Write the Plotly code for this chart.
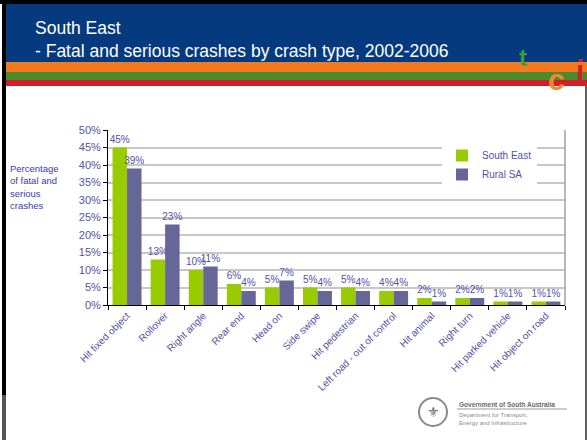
import plotly.graph_objects as go

categories = ["Hit fixed object", "Rollover", "Right angle", "Rear end", "Head on",
              "Side swipe", "Hit pedestrian", "Left road - out of control",
              "Hit animal", "Right turn", "Hit parked vehicle", "Hit object on road"]
south_east = [0.45, 0.13, 0.10, 0.06, 0.05, 0.05, 0.05, 0.04, 0.02, 0.02, 0.01, 0.01]
rural_sa = [0.39, 0.23, 0.11, 0.04, 0.07, 0.04, 0.04, 0.04, 0.01, 0.02, 0.01, 0.01]
series_names = ["South East", "Rural SA"]

W, H = 587, 440
L, R, T, B = 108, 565, 130, 305

def px(x):
    return (x - L) / (R - L)

def py(y):
    return (B - y) / (B - T)

TXT = "#5252A8"
fig = go.Figure()
for name, vals, col in [(series_names[0], south_east, "#99CC00"),
                        (series_names[1], rural_sa, "#666699")]:
    fig.add_trace(go.Bar(
        x=categories, y=vals, name=name, marker=dict(color=col, line=dict(width=0)),
        text=[f"{round(v*100)}%" for v in vals], textposition="outside",
        textfont=dict(color=TXT, size=10, family="Liberation Sans, Arial"),
        cliponaxis=False, constraintext="none"))

shapes = []
def rect(x0, y0, x1, y1, color, layer="below"):
    shapes.append(dict(type="rect", xref="paper", yref="paper",
                       x0=px(x0), x1=px(x1), y0=py(y1), y1=py(y0),
                       fillcolor=color, line=dict(width=0), layer=layer))

# header
rect(5, 4, 587, 62, "#063A7E")
rect(5, 62, 587, 72, "#F47A1F")
rect(5, 72, 587, 80, "#4C8A2C")
rect(5, 80, 587, 86, "#D11F2A")
# frame
rect(0, 0, 587, 4, "#000000")
rect(2, 0, 6, 395, "#000000")
rect(2, 395, 6, 440, "#555555")
rect(585, 86, 587, 440, "#606060")
# plot right border
shapes.append(dict(type="line", xref="paper", yref="paper", x0=1, x1=1, y0=0, y1=1,
                   line=dict(color="#A0A0A0", width=1.5), layer="above"))
# government logo circle
shapes.append(dict(type="circle", xref="paper", yref="paper",
                   x0=px(419), x1=px(447), y0=py(426), y1=py(398),
                   line=dict(color="#8A8A8A", width=2), fillcolor="rgba(0,0,0,0)"))
shapes.append(dict(type="line", xref="paper", yref="paper",
                   x0=px(457), x1=px(567), y0=py(409), y1=py(409),
                   line=dict(color="#9A9A9A", width=1)))

ann = []
def text(x, y, s, size, color, xanchor="left", yanchor="middle", **kw):
    ann.append(dict(x=px(x), y=py(y), xref="paper", yref="paper", text=s, showarrow=False,
                    xanchor=xanchor, yanchor=yanchor, align="left",
                    font=dict(size=size, color=color, family="Liberation Sans, Arial"), **kw))

text(33, 28, "South East", 17.5, "#FFFFFF")
text(33, 51, "- Fatal and serious crashes by crash type, 2002-2006", 17.5, "#FFFFFF")
text(8, 161, "Percentage<br>of fatal and<br>serious<br>crashes", 9.5, "#3A3AB0", yanchor="top")
# decorative logo letters
text(523, 58, "<b>t</b>", 24, "#3E9A3A", xanchor="center")
text(556, 80, "<b>c</b>", 30, "#F08A30", xanchor="center")
text(580, 70, "<b>i</b>", 30, "#D0202A", xanchor="center")
# government logo text
text(433, 412, "\u269c", 14, "#707070", xanchor="center")
text(457, 404, "<b>Government of South Australia</b>", 6.5, "#6A6A6A")
text(457, 415, "Department for Transport,", 6, "#8A8A8A")
text(457, 423, "Energy and Infrastructure", 6, "#8A8A8A")

fig.update_layout(
    width=W, height=H, margin=dict(l=L, r=W - R, t=T, b=H - B),
    paper_bgcolor="#FFFFFF", plot_bgcolor="#FFFFFF",
    barmode="group", bargap=0.24, bargroupgap=0,
    uniformtext=dict(minsize=10, mode="show"),
    font=dict(family="Liberation Sans, Arial", color=TXT),
    showlegend=True,
    legend=dict(x=px(442), y=py(141), xanchor="left", yanchor="top",
                bgcolor="#FFFFFF", font=dict(size=10, color=TXT),
                itemwidth=30, tracegroupgap=0),
    shapes=shapes, annotations=ann,
    xaxis=dict(tickangle=-45, tickfont=dict(size=10, color=TXT),
               ticks="outside", tickson="boundaries", ticklen=4, tickcolor="#000000",
               showline=True, linecolor="#000000", linewidth=1, showgrid=False,
               fixedrange=True),
    yaxis=dict(range=[0, 0.5], dtick=0.05, tickformat=".0%",
               tickfont=dict(size=11, color=TXT), ticks="outside", ticklen=4,
               tickcolor="#000000", showline=True, linecolor="#000000", linewidth=1,
               gridcolor="#C8C8C8", gridwidth=1.5, zeroline=False, fixedrange=True),
)
fig.write_html("out.html", config={"displayModeBar": False},
               post_script="document.body.style.margin='0';")
